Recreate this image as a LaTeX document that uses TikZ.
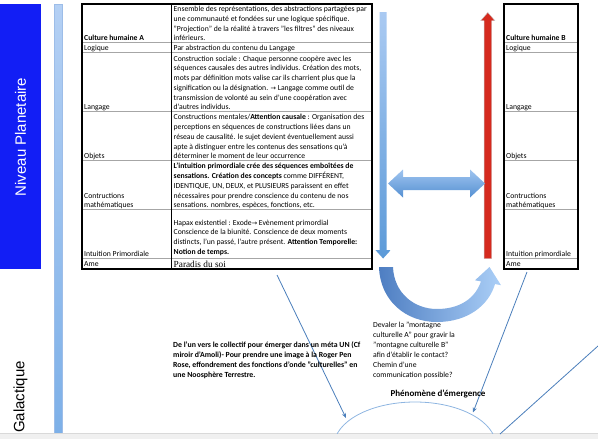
\documentclass[tikz,border=0pt]{standalone}
\usepackage{fontspec}
\setmainfont{Carlito}
\newfontfamily\arialf{Liberation Sans}
\newfontfamily\timesf{Liberation Serif}
\newfontfamily\symf{DejaVu Sans}
\usetikzlibrary{arrows.meta}
\definecolor{bandblue}{RGB}{18,30,245}
\definecolor{bartop}{RGB}{180,208,244}
\definecolor{barbot}{RGB}{125,176,232}
\definecolor{barline}{RGB}{157,189,232}
\definecolor{dtop}{RGB}{170,202,242}
\definecolor{dbot}{RGB}{92,154,216}
\definecolor{htop}{RGB}{160,197,240}
\definecolor{hbot}{RGB}{85,144,210}
\definecolor{cdark}{RGB}{78,126,194}
\definecolor{clight}{RGB}{171,207,247}
\definecolor{arrred}{RGB}{213,42,30}
\definecolor{connblue}{RGB}{74,126,187}
\definecolor{arcblue}{RGB}{142,181,225}
\definecolor{stripgray}{RGB}{240,240,240}
\definecolor{stripline}{RGB}{217,217,217}
\newcommand{\arr}{{\symf\fontsize{6.5}{9.75}\selectfont →}}
\begin{document}
\begin{tikzpicture}[x=1pt,y=-1pt,
  cell/.style={anchor=south west, inner sep=0pt, align=left, font=\fontsize{7.7}{9.75}\selectfont},
  rowsep/.style={draw=gray!70, double=white, double distance=0.9pt, line width=0.45pt},
  tabborder/.style={draw=black, line width=1.1pt},
  conn/.style={draw=connblue, line width=0.8pt},
  connarrow/.style={conn, -{Stealth[length=5pt,width=4pt]}},
  freetext/.style={anchor=north west, inner sep=0pt, align=left}
]
\useasboundingbox (0,0) rectangle (598,439);

% left band
\fill[bandblue] (0,4) rectangle (40.7,268.5);
\node[rotate=90, text=white, font=\arialf\fontsize{15}{18}\selectfont, inner sep=0pt] (planet) at (20.5,137) {Niveau Planetaire};
\node[rotate=90, text=black, font=\arialf\fontsize{15}{18}\selectfont, inner sep=0pt] (galac) at (20.5,397) {Galactique};

% light blue vertical bar
\shade[top color=bartop, bottom color=barbot] (54.3,4) rectangle (62.3,433.5);
\draw[barline, line width=0.5pt] (54.3,433.5) -- (54.3,4) -- (62.3,4) -- (62.3,433.5);

% bottom strip
\fill[stripgray] (0,433.5) rectangle (598,439);
\draw[stripline, line width=0.6pt] (0,433.5) -- (598,433.5);

% ---------- Table A ----------
\foreach \yy in {43,53,112,161,210,259} {\draw[rowsep] (82,\yy) -- (372,\yy);}
\draw[black, line width=0.8pt] (171,4) -- (171,269);
\draw[tabborder] (82,4) rectangle (372,269);

\node[cell, font=\bfseries\fontsize{7.7}{9.75}\selectfont] (a1l) at (84,43.9) {Culture humaine A\strut};
\node[cell] (a2l) at (84,53.9) {Logique\strut};
\node[cell] (a3l) at (84,112.9) {Langage\strut};
\node[cell] (a4l) at (84,161.9) {Objets\strut};
\node[cell] (a5l) at (84,210.9) {Contructions\\mathématiques\strut};
\node[cell] (a6l) at (84,259.9) {Intuition Primordiale\strut};
\node[cell] (a7l) at (84,269.9) {Ame\strut};

\node[cell] (a1r) at (173.5,43.9) {Ensemble des représentations, des abstractions partagées par\\une communauté et fondées sur une logique spécifique.\\"Projection" de la réalité à travers "les filtres" des niveaux\\inférieurs.\strut};
\node[cell] (a2r) at (173.5,53.9) {Par abstraction du contenu du Langage\strut};
\node[cell] (a3r) at (173.5,112.9) {Construction sociale : Chaque personne coopère avec les\\séquences causales des autres individus. Création des mots,\\mots par définition mots valise car ils charrient plus que la\\signification ou la désignation. \arr{} Langage comme outil de\\transmission de volonté au sein d'une coopération avec\\d'autres individus.\strut};
\node[cell] (a4r) at (173.5,161.9) {Constructions mentales/\textbf{Attention causale} : Organisation des\\perceptions en séquences de constructions liées dans un\\réseau de causalité. le sujet devient éventuellement aussi\\apte à distinguer entre les contenus des sensations qu'à\\déterminer le moment de leur occurrence\strut};
\node[cell] (a5r) at (173.5,210.9) {\textbf{L'intuition primordiale crée des séquences emboîtées de}\\\textbf{sensations. Création des concepts} comme DIFFÉRENT,\\IDENTIQUE, UN, DEUX, et PLUSIEURS paraissent en effet\\nécessaires pour prendre conscience du contenu de nos\\sensations. nombres, espèces, fonctions, etc.\strut};
\node[cell] (a6r) at (173.5,257.4) {Hapax existentiel : Exode\arr{} Evènement primordial\\Conscience de la biunité. Conscience de deux moments\\distincts, l'un passé, l'autre présent. \textbf{Attention Temporelle:}\\\textbf{Notion de temps.}\strut};
\node[anchor=base west, inner sep=0pt, font=\timesf\fontsize{9.3}{11}\selectfont] (a7r) at (173.5,267.3) {Paradis du soi};

% ---------- Table B ----------
\foreach \yy in {43,53,112,161,210,259} {\draw[rowsep] (504,\yy) -- (578,\yy);}
\draw[tabborder] (504,4) rectangle (578,269);
\node[cell, font=\bfseries\fontsize{7.7}{9.75}\selectfont] (b1l) at (506,43.9) {Culture humaine B\strut};
\node[cell] (b2l) at (506,53.9) {Logique\strut};
\node[cell] (b3l) at (506,112.9) {Langage\strut};
\node[cell] (b4l) at (506,161.9) {Objets\strut};
\node[cell] (b5l) at (506,210.9) {Contructions\\mathématiques\strut};
\node[cell] (b6l) at (506,259.9) {Intuition primordiale\strut};
\node[cell] (b7l) at (506,269.9) {Ame\strut};

% ---------- block arrows ----------
% down arrow (light blue)
\shade[top color=dtop, bottom color=dbot] (379.6,12) -- (386.6,12) -- (386.6,250) -- (390.8,250) -- (383.1,258.5) -- (375.4,250) -- (379.6,250) -- cycle;
% red up arrow
\filldraw[fill=arrred, draw=gray!45, line width=0.4pt] (484.1,258.5) -- (484.1,20.7) -- (480.7,20.7) -- (487.8,12.5) -- (494.9,20.7) -- (491.5,20.7) -- (491.5,258.5) -- cycle;
% horizontal double arrow
\shade[top color=htop, bottom color=hbot] (388,183.5) -- (403,169.5) -- (403,177) -- (470,177) -- (470,169.5) -- (485,183.5) -- (470,197.5) -- (470,190) -- (403,190) -- (403,197.5) -- cycle;
% curved U arrow
\shade[left color=cdark, right color=clight]
  (379,267) .. controls (380,300) and (405,322) .. (437,322)
  .. controls (468,322) and (489,305) .. (495,284)
  -- (501,285.2) -- (489.5,267) -- (475,280.3) -- (481,281.4)
  .. controls (475,299) and (459,309) .. (437,309)
  .. controls (414,309) and (394,293) .. (393,267) -- cycle;

% ---------- emergence arc ----------
\begin{scope}
\clip (0,0) rectangle (598,433.3);
\draw[arcblue, line width=0.8pt] (415,446) ellipse [x radius=81pt, y radius=44pt];
\end{scope}

% ---------- connectors ----------
\coordinate (c1s) at (277,275);
\coordinate (c1e) at (346,418);
\coordinate (c2s) at (527,272);
\coordinate (c2e) at (473,412.5);
\coordinate (c3s) at (500,434);
\coordinate (c3e) at (598,346);
\draw[connarrow] (c1s) -- (c1e);
\draw[connarrow] (c2s) -- (c2e);
\draw[conn] (c3s) -- (c3e);

% ---------- free texts ----------
\node[freetext, font=\fontsize{7.7}{9.9}\selectfont] (devaler) at (373,320.6) {\strut Devaler la "montagne\\culturelle A" pour gravir la\\"montagne culturelle B"\\afin d'établir le contact?\\Chemin d'une\\communication possible?};
\node[freetext, font=\bfseries\fontsize{7.8}{10.2}\selectfont] (collectif) at (173,339.7) {\strut De l'un vers le collectif pour émerger dans un méta UN (Cf\\miroir d'Amoli)- Pour prendre une image à la Roger Pen\\Rose, effondrement des fonctions d'onde "culturelles" en\\une Noosphère Terrestre.};
\node[anchor=base, inner sep=0pt, font=\bfseries\fontsize{9}{11}\selectfont] (emerg) at (438,396) {Phénomène d'émergence};
\end{tikzpicture}
\end{document}
